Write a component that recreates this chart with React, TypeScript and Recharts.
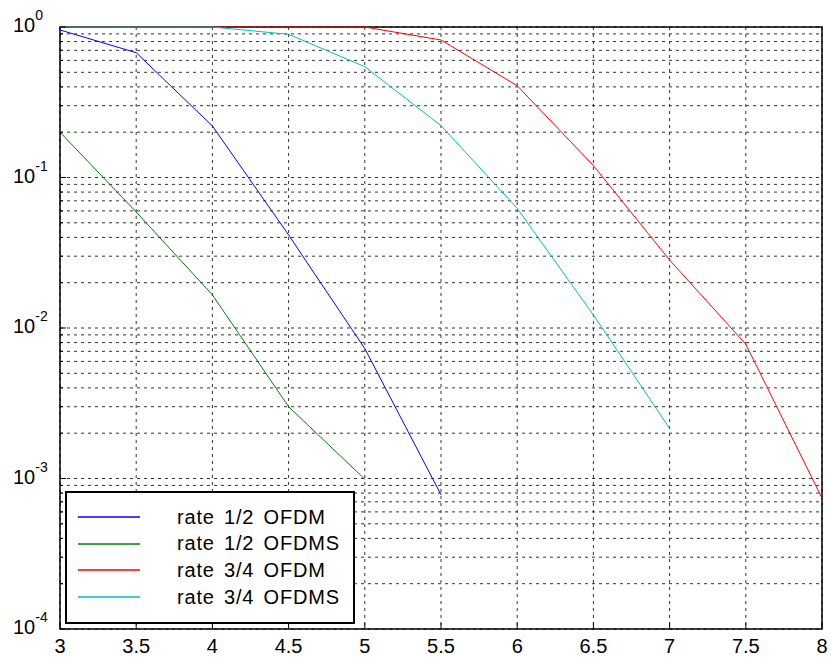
import { CartesianGrid, Legend, Line, LineChart, ReferenceArea, XAxis, YAxis } from "recharts";

const FONT = '"Liberation Sans", Arial, Helvetica, sans-serif';

// SNR (x axis)
const snr = [3, 3.5, 4, 4.5, 5, 5.5, 6, 6.5, 7, 7.5, 8];

// error rates
const rateHalfOfdm = [0.955, 0.675, 0.22, 0.0415, 0.0073, 0.00078, null, null, null, null, null];
const rateHalfOfdms = [0.2, 0.059, 0.0166, 0.003, 0.00099, null, null, null, null, null, null];
const rateThreeQOfdm = [1, 1, 1, 1, 1, 0.82, 0.407, 0.12, 0.0283, 0.0078, 0.00074];
const rateThreeQOfdms = [1, 1, 1, 0.894, 0.545, 0.221, 0.0624, 0.0122, 0.00215, null, null];

const seriesColors = ["#0000ff", "#008000", "#ff0000", "#00bfbf"];

const xTicks = [3, 3.5, 4, 4.5, 5, 5.5, 6, 6.5, 7, 7.5, 8];
const decades = [1e-4, 1e-3, 1e-2, 1e-1];
const mantissas = [1, 2, 3, 4, 5, 6, 7, 8, 9];
const yTicks = [...decades.flatMap((d) => mantissas.map((m) => m * d)), 1];

const data = snr.map((x, i) => ({
  x,
  halfOfdm: rateHalfOfdm[i],
  halfOfdms: rateHalfOfdms[i],
  threeQOfdm: rateThreeQOfdm[i],
  threeQOfdms: rateThreeQOfdms[i],
}));

const XTick = ({ x, y, payload }: any) => (
  <g>
    <line x1={x} x2={x} y1={y} y2={y - 6} stroke="#000" />
    <text x={x} y={y + 24} textAnchor="middle" fontSize={20} fontFamily={FONT} fill="#000">
      {payload.value}
    </text>
  </g>
);

const YTick = ({ x, y, payload }: any) => {
  const lg = Math.log10(payload.value);
  const exp = Math.round(lg);
  const isDecade = Math.abs(lg - exp) < 1e-6;
  return (
    <g>
      <line x1={x} x2={x + (isDecade ? 6 : 3)} y1={y} y2={y} stroke="#000" />
      {isDecade && (
        <text x={x - 47} y={y + 5} fontSize={20} fontFamily={FONT} fill="#000">
          10
          <tspan dy={-12} fontSize={14}>
            {exp}
          </tspan>
        </text>
      )}
    </g>
  );
};

const LegendBox = (props: any) => {
  const items = props.payload ?? [];
  return (
    <div
      style={{
        position: "relative",
        width: 286,
        height: 129,
        border: "2px solid #000",
        background: "#fff",
        fontFamily: FONT,
      }}
    >
      {items.map((entry: any, i: number) => (
        <div
          key={entry.value}
          style={{
            position: "absolute",
            left: 11,
            top: 11 + i * 26.7,
            height: 26,
            display: "flex",
            alignItems: "center",
          }}
        >
          <svg width={62} height={4} style={{ display: "block" }}>
            <line x1={0} x2={62} y1={2} y2={2} stroke={entry.payload?.stroke ?? entry.color} strokeWidth={1.5} />
          </svg>
          <span
            style={{
              marginLeft: 37,
              fontSize: 20,
              letterSpacing: 0.8,
              wordSpacing: 3,
              whiteSpace: "pre",
              color: "#000",
            }}
          >
            {entry.value}
          </span>
        </div>
      ))}
    </div>
  );
};

export default function App() {
  return (
    <div style={{ position: "absolute", left: 0, top: 0, background: "#fff" }}>
      <LineChart width={831} height={663} data={data} margin={{ top: 27, right: 9, bottom: 0, left: 0 }}>
        <CartesianGrid stroke="#333" strokeDasharray="3 4" />
        <XAxis
          dataKey="x"
          type="number"
          domain={[3, 8]}
          ticks={xTicks}
          height={34}
          axisLine={false}
          tickLine={false}
          tickSize={0}
          tickMargin={0}
          tick={<XTick />}
        />
        <YAxis
          scale="log"
          domain={[1e-4, 1]}
          ticks={yTicks}
          width={60}
          axisLine={false}
          tickLine={false}
          tickSize={0}
          tickMargin={0}
          interval={0}
          tick={<YTick />}
        />
        <ReferenceArea
          x1={3}
          x2={8}
          y1={1e-4}
          y2={1}
          fill="none"
          stroke="#000"
          strokeWidth={1.5}
          zIndex={-50}
        />
        <Line dataKey="halfOfdm" name="rate 1/2 OFDM" stroke={seriesColors[0]} strokeWidth={1} dot={false} isAnimationActive={false} />
        <Line dataKey="halfOfdms" name="rate 1/2 OFDMS" stroke={seriesColors[1]} strokeWidth={1} dot={false} isAnimationActive={false} />
        <Line dataKey="threeQOfdm" name="rate 3/4 OFDM" stroke={seriesColors[2]} strokeWidth={1} dot={false} isAnimationActive={false} />
        <Line dataKey="threeQOfdms" name="rate 3/4 OFDMS" stroke={seriesColors[3]} strokeWidth={1} dot={false} isAnimationActive={false} />
        <Legend
          layout="vertical"
          align="center"
          verticalAlign="middle"
          content={<LegendBox />}
          wrapperStyle={{ left: 65, top: 491, width: 290, height: 133 }}
        />
      </LineChart>
    </div>
  );
}
